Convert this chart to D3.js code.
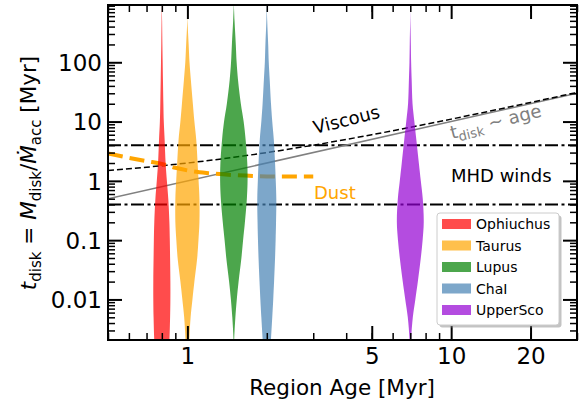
<!DOCTYPE html>
<html><head><meta charset="utf-8">
<script src="https://cdn.jsdelivr.net/npm/d3@7"></script>
<style>body{margin:0;background:#fff}svg{display:block;font-family:"DejaVu Sans",sans-serif}</style>
</head><body>
<svg id="chart" width="579" height="402"></svg>
<script>
// ---------------- data ----------------
const regions = ["Ophiuchus", "Taurus", "Lupus", "ChaI", "UpperSco"];
const regionAges = [0.8, 1.0, 1.5, 2.0, 7.0];
const regionColors = ["red", "orange", "green", "steelblue", "darkviolet"];
// disk-lifetime grid (Myr) on which the violin densities are given
const tGrid = [1000, 500, 200, 100, 50, 20, 10, 5, 2, 1, 0.5, 0.2, 0.1, 0.05, 0.02, 0.01, 0.005, 0.002, 0.001];
const densOphiuchus = [0, 0.02, 0.04, 0.06, 0.08, 0.11, 0.14, 0.2, 0.27, 0.36, 0.46, 0.54, 0.57, 0.59, 0.61, 0.61, 0.59, 0.54, 0.46];
const densTaurus    = [0, 0.01, 0.09, 0.15, 0.25, 0.39, 0.5, 0.63, 0.73, 0.8, 0.86, 0.86, 0.79, 0.7, 0.5, 0.36, 0.23, 0.13, 0.07];
const densLupus     = [0, 0.05, 0.14, 0.2, 0.3, 0.5, 0.7, 0.84, 0.96, 0.98, 0.93, 0.79, 0.66, 0.54, 0.34, 0.21, 0.11, 0.02, 0];
const densChaI      = [0, 0.03, 0.1, 0.14, 0.21, 0.3, 0.39, 0.5, 0.59, 0.64, 0.68, 0.66, 0.63, 0.59, 0.52, 0.46, 0.39, 0.29, 0.21];
const densUpperSco  = [0, 0.01, 0.04, 0.06, 0.1, 0.16, 0.29, 0.43, 0.61, 0.75, 0.89, 0.96, 0.88, 0.75, 0.54, 0.36, 0.18, 0.05, 0.02];
const regionDens = [densOphiuchus, densTaurus, densLupus, densChaI, densUpperSco];

const viscousAge = [0.5, 0.7, 1, 1.5, 2, 3, 5, 7, 10, 15, 20, 30];
const viscousT   = [1.5, 1.7, 2, 2.5, 3, 4, 6, 8, 11, 16, 21, 31];
const equalAge = [0.5, 30];
const equalT   = [0.5, 30];
const dustAge = [0.5, 0.6, 0.7, 0.8, 0.9, 1.0, 1.2, 1.5, 2.0, 2.5, 3.0];
const dustT   = [2.9, 2.45, 2.15, 1.93, 1.66, 1.5, 1.35, 1.25, 1.19, 1.18, 1.18];
const windLevels = [4, 0.4];

const xMajor = [1, 5, 10, 20];
const xMajorLabels = ["1", "5", "10", "20"];
const yMajor = [0.01, 0.1, 1, 10, 100];
const yMajorLabels = ["0.01", "0.1", "1", "10", "100"];

// ---------------- layout ----------------
const L = 108, R = 577, T = 5, B = 340;
const svg = d3.select("#chart");
const x = d3.scaleLog().domain([0.5, 30]).range([L, R]);
const y = d3.scaleLog().domain([0.00207, 925]).range([B, T]);
const w = d3.scaleLinear().domain([0, 1]).range([0, 14]);

function minorTicks(scale) {
  const [a, b] = scale.domain();
  const out = [];
  for (let e = Math.floor(Math.log10(a)); e <= Math.ceil(Math.log10(b)); e++) {
    for (let k = 2; k <= 9; k++) {
      const v = k * Math.pow(10, e);
      if (v >= a * 0.999 && v <= b * 1.001) out.push(v);
    }
  }
  return out;
}
const xMinor = minorTicks(x);
const yMinor = minorTicks(y);

svg.append("defs").append("clipPath").attr("id", "clip")
  .append("rect").attr("x", L).attr("y", T).attr("width", R - L).attr("height", B - T);

const plot = svg.append("g").attr("clip-path", "url(#clip)");

// reference lines
const line = d3.line().x(d => x(d[0])).y(d => y(d[1]));
windLevels.forEach(v => {
  plot.append("path").datum([[0.5, v], [30, v]]).attr("d", line)
    .attr("fill", "none").attr("stroke", "#000").attr("stroke-width", 2)
    .attr("stroke-dasharray", "13,3.5,3,3.5");
});
plot.append("path").datum(equalAge.map((a, i) => [a, equalT[i]]))
  .attr("d", line).attr("fill", "none").attr("stroke", "gray").attr("stroke-width", 1.5);
plot.append("path").datum(viscousAge.map((a, i) => [a, viscousT[i]]))
  .attr("d", line.curve(d3.curveMonotoneX)).attr("fill", "none").attr("stroke", "#000")
  .attr("stroke-width", 1.5).attr("stroke-dasharray", "6,3");
plot.append("path").datum(dustAge.map((a, i) => [a, dustT[i]]))
  .attr("d", line.curve(d3.curveMonotoneX)).attr("fill", "none").attr("stroke", "orange")
  .attr("stroke-width", 4).attr("stroke-dasharray", "15,7");

// violins
regions.forEach((r, i) => {
  const pts = tGrid.map((t, j) => ({t: t, d: regionDens[i][j]}));
  const area = d3.area().curve(d3.curveCatmullRom)
    .y(d => y(d.t))
    .x0(d => x(regionAges[i]) - w(d.d))
    .x1(d => x(regionAges[i]) + w(d.d));
  plot.append("path").datum(pts).attr("d", area)
    .attr("fill", regionColors[i]).attr("fill-opacity", 0.7);
});

// in-plot annotations
svg.append("text").attr("transform", "translate(315,134) rotate(-14)")
  .attr("font-size", 18).attr("fill", "#000").text("Viscous");
const tg = svg.append("text").attr("transform", "translate(452,139) rotate(-14)")
  .attr("font-size", 18).attr("fill", "gray");
tg.append("tspan").text("t");
tg.append("tspan").attr("font-size", 13).attr("dy", 4).text("disk");
tg.append("tspan").attr("dy", -4).text(" ~ age");
svg.append("text").attr("x", 451).attr("y", 182).attr("font-size", 18).attr("fill", "#000").text("MHD winds");
svg.append("text").attr("x", 314).attr("y", 199).attr("font-size", 18).attr("fill", "orange").text("Dust");

// axes
function styleAxis(g) {
  g.select(".domain").remove();
  g.selectAll("line").attr("stroke", "#000");
  g.selectAll("text").attr("font-family", "DejaVu Sans").attr("fill", "#000");
}
const majLen = 14, minLen = 7;
// bottom
svg.append("g").attr("transform", `translate(0,${B})`)
  .call(d3.axisBottom(x).tickValues(xMajor).tickFormat((d, i) => xMajorLabels[i]).tickSize(-majLen).tickPadding(8))
  .call(styleAxis).call(g => { g.selectAll("line").attr("stroke-width", 2); g.selectAll("text").attr("font-size", 23).attr("dy", "0.71em"); });
svg.append("g").attr("transform", `translate(0,${B})`)
  .call(d3.axisBottom(x).tickValues(xMinor).tickFormat("").tickSize(-minLen))
  .call(styleAxis).call(g => g.selectAll("line").attr("stroke-width", 1.5));
// top
svg.append("g").attr("transform", `translate(0,${T})`)
  .call(d3.axisTop(x).tickValues(xMajor).tickFormat("").tickSize(-majLen))
  .call(styleAxis).call(g => g.selectAll("line").attr("stroke-width", 2));
svg.append("g").attr("transform", `translate(0,${T})`)
  .call(d3.axisTop(x).tickValues(xMinor).tickFormat("").tickSize(-minLen))
  .call(styleAxis).call(g => g.selectAll("line").attr("stroke-width", 1.5));
// left
svg.append("g").attr("transform", `translate(${L},0)`)
  .call(d3.axisLeft(y).tickValues(yMajor).tickFormat((d, i) => yMajorLabels[i]).tickSize(-majLen).tickPadding(6))
  .call(styleAxis).call(g => { g.selectAll("line").attr("stroke-width", 2); g.selectAll("text").attr("font-size", 23).attr("dy", "0.36em"); });
svg.append("g").attr("transform", `translate(${L},0)`)
  .call(d3.axisLeft(y).tickValues(yMinor).tickFormat("").tickSize(-minLen))
  .call(styleAxis).call(g => g.selectAll("line").attr("stroke-width", 1.5));
// right
svg.append("g").attr("transform", `translate(${R},0)`)
  .call(d3.axisRight(y).tickValues(yMajor).tickFormat("").tickSize(-majLen))
  .call(styleAxis).call(g => g.selectAll("line").attr("stroke-width", 2));
svg.append("g").attr("transform", `translate(${R},0)`)
  .call(d3.axisRight(y).tickValues(yMinor).tickFormat("").tickSize(-minLen))
  .call(styleAxis).call(g => g.selectAll("line").attr("stroke-width", 1.5));

// frame
svg.append("rect").attr("x", L).attr("y", T).attr("width", R - L).attr("height", B - T)
  .attr("fill", "none").attr("stroke", "#000").attr("stroke-width", 2);

// axis labels
svg.append("text").attr("x", 342).attr("y", 395).attr("text-anchor", "middle")
  .attr("font-size", 21.5).text("Region Age [Myr]");
const yl = svg.append("text").attr("transform", "translate(36,173) rotate(-90)")
  .attr("text-anchor", "middle").attr("font-size", 21.5);
yl.append("tspan").attr("font-style", "italic").text("t");
yl.append("tspan").attr("font-size", 15).attr("dy", 4.5).text("disk");
yl.append("tspan").attr("dy", -4.5).text(" = ");
yl.append("tspan").attr("font-style", "italic").text("M");
yl.append("tspan").attr("font-size", 15).attr("dy", 4.5).text("disk");
yl.append("tspan").attr("dy", -4.5).text("/");
yl.append("tspan").attr("font-style", "italic").text("\u1E40");
yl.append("tspan").attr("font-size", 15).attr("dy", 4.5).text("acc");
yl.append("tspan").attr("dy", -4.5).text(" [Myr]");

// legend
const lg = svg.append("g");
lg.append("rect").attr("x", 439.5).attr("y", 215.5).attr("width", 122).attr("height", 112).attr("rx", 3)
  .attr("fill", "#888").attr("fill-opacity", 0.5);
lg.append("rect").attr("x", 437).attr("y", 213).attr("width", 122).attr("height", 112).attr("rx", 3)
  .attr("fill", "#fff").attr("stroke", "#ccc").attr("stroke-width", 1);
regions.forEach((r, i) => {
  const cy = 224 + i * 21.5;
  lg.append("rect").attr("x", 442).attr("y", cy - 5).attr("width", 29).attr("height", 10)
    .attr("fill", regionColors[i]).attr("fill-opacity", 0.7);
  lg.append("text").attr("x", 476).attr("y", cy).attr("dy", "0.36em").attr("font-size", 14).text(r);
});
</script>
</body></html>
